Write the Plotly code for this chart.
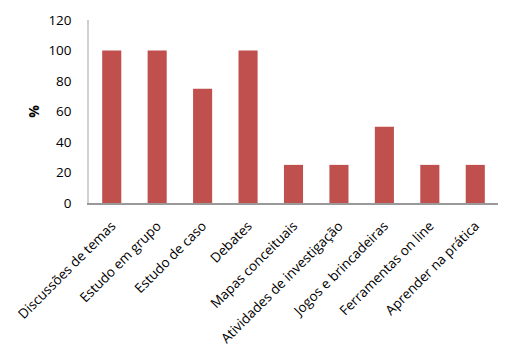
import plotly.graph_objects as go

categories = ["Discussões de temas", "Estudo em grupo", "Estudo de caso", "Debates",
              "Mapas conceituais", "Atividades de investigação", "Jogos e brincadeiras",
              "Ferramentas on line", "Aprender na prática"]
values = [100, 100, 75, 100, 25, 25, 50, 25, 25]
y_ticks = [0, 20, 40, 60, 80, 100, 120]

fig = go.Figure(go.Bar(x=categories, y=values, marker=dict(color="#C0504D", line=dict(width=0)),
                       width=0.42))

font = "Open Sans, Liberation Sans, sans-serif"
fig.update_layout(
    width=524, height=364,
    margin=dict(l=81, r=34, t=12, b=169),
    plot_bgcolor="white", paper_bgcolor="white",
    showlegend=False,
    font=dict(family=font, size=13, color="#000000"),
    xaxis=dict(tickangle=-45, showline=True, linecolor="#999999", linewidth=1.5,
               showgrid=False, ticks="", tickfont=dict(size=13.5), automargin=False,
               ticklabelstandoff=8),
    yaxis=dict(range=[0, 120], tickvals=y_ticks, showline=True, linecolor="#D0D0D0", linewidth=1.5,
               showgrid=False, zeroline=False, ticks="", ticklabelstandoff=13,
               tickfont=dict(size=13.5), automargin=False,
               title=dict(text="<b>%</b>", font=dict(size=14), standoff=5)),
)
fig.write_html("out.html")
